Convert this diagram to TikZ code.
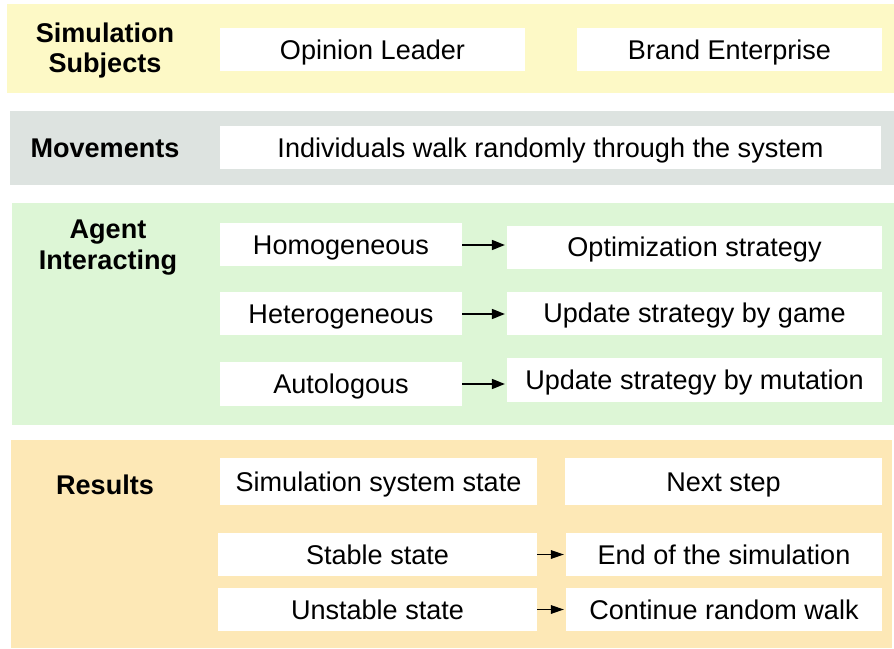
\documentclass[tikz,border=0pt]{standalone}
\usepackage{fontspec}
\setmainfont{Liberation Sans}
\usepackage{tikz}
\usetikzlibrary{positioning, arrows.meta}
\usepackage{xcolor}
\definecolor{bandyellow}{HTML}{FDF9C6}
\definecolor{bandgray}{HTML}{DDE3E0}
\definecolor{bandgreen}{HTML}{DDF6D6}
\definecolor{bandorange}{HTML}{FDE8B6}

\begin{document}
\begin{tikzpicture}[font=\fontsize{15.4}{17.6}\selectfont,
    cell/.style={fill=white, inner sep=0pt, minimum height=0.86cm,
      text height=0.38cm, text depth=0cm},
    rowlabel/.style={font=\fontsize{15.4}{17.6}\selectfont\bfseries, align=center},
    flow/.style={-{Triangle[length=0.26cm, width=0.2cm]}, line width=0.85pt, shorten >=1pt}]
    \useasboundingbox (0,0) rectangle (17.88,12.96);
    % background bands
    \fill[bandyellow] (0.14,12.88) rectangle (17.88,11.10);
    \fill[bandgray] (0.20,10.74) rectangle (17.88,9.26);
    \fill[bandgreen] (0.24,8.90) rectangle (17.88,4.46);
    \fill[bandorange] (0.22,4.16) rectangle (17.84,0);
    % row labels
    \node[rowlabel] (subj) at (2.10,11.95) {Simulation\\ Subjects};
    \node[rowlabel] (move) at (2.10,10.00) {Movements};
    \node[rowlabel] (agent) at (2.16,8.01) {Agent\\ Interacting};
    \node[rowlabel] (res) at (2.10,3.26) {Results};
    % subjects and movements
    \node[cell, minimum width=6.10cm] (leader) at (7.45,11.96) {Opinion Leader};
    \node[cell, minimum width=6.10cm] (brand) at (14.59,11.96) {Brand Enterprise};
    \node[cell, minimum width=13.22cm] (walk) at (11.01,10.00)
      {Individuals walk randomly through the system};
    % interaction types
    \node[cell, minimum width=4.84cm] (homo) at (6.82,8.06) {Homogeneous};
    \node[cell, minimum width=4.84cm] (hetero) at (6.82,6.68) {Heterogeneous};
    \node[cell, minimum width=4.84cm] (auto) at (6.82,5.28) {Autologous};
    \node[cell, minimum width=7.50cm] (optim) at (13.89,8.01) {Optimization strategy};
    \node[cell, minimum width=7.50cm] (game) at (13.89,6.69) {Update strategy by game};
    \node[cell, minimum width=7.50cm] (mutate) at (13.89,5.36) {Update strategy by mutation};
    \draw[flow] (homo.east) -- (homo.east -| optim.west);
    \draw[flow] (hetero.east) -- (hetero.east -| game.west);
    \draw[flow] (auto.east) -- (auto.east -| mutate.west);
    % results
    \node[cell, minimum width=6.34cm, minimum height=0.94cm] (sysstate) at (7.57,3.33)
      {Simulation system state};
    \node[cell, minimum width=6.34cm, minimum height=0.94cm] (next) at (14.47,3.33) {Next step};
    \node[cell, minimum width=6.38cm] (stable) at (7.55,1.87) {Stable state};
    \node[cell, minimum width=6.38cm] (unstable) at (7.55,0.77) {Unstable state};
    \node[cell, minimum width=6.32cm] (finish) at (14.48,1.87) {End of the simulation};
    \node[cell, minimum width=6.32cm] (cont) at (14.48,0.77) {Continue random walk};
    \draw[flow, -{Triangle[length=0.26cm, width=0.17cm]}] (stable) -- (finish);
    \draw[flow, -{Triangle[length=0.26cm, width=0.17cm]}] (unstable) -- (cont);
\end{tikzpicture}
\end{document}
